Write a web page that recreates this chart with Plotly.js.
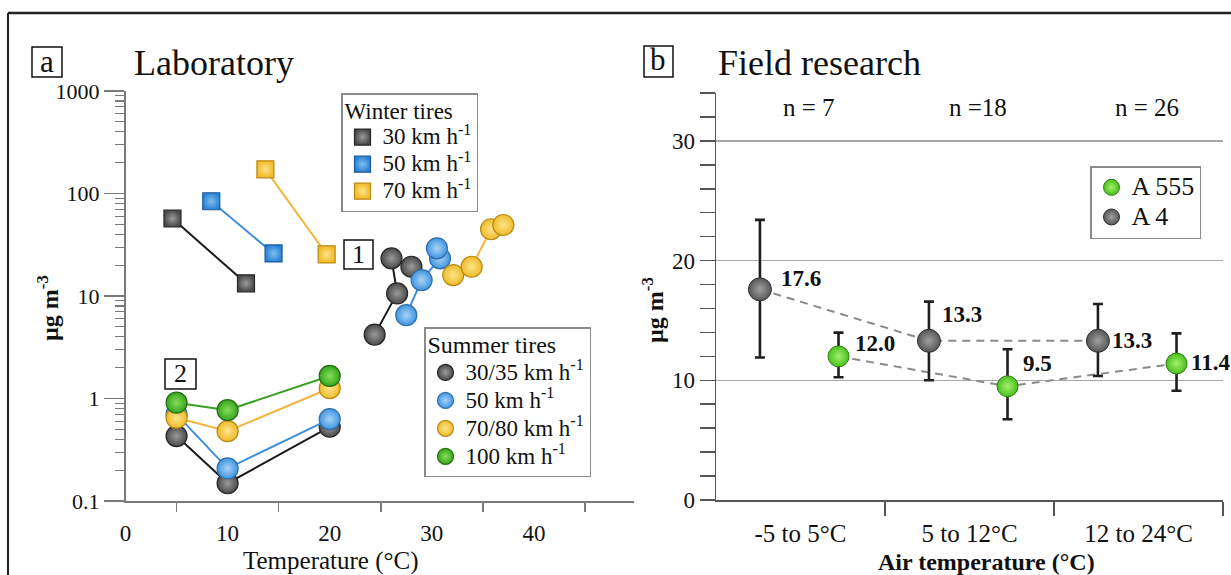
<!DOCTYPE html>
<html><head><meta charset="utf-8">
<script src="https://cdn.plot.ly/plotly-3.0.1.min.js"></script>
<style>html,body{margin:0;padding:0;background:#fff;} #chart{width:1231px;height:575px;}</style>
</head><body><div id="chart"></div>
<script>
// ---------- Panel a: Laboratory ----------
const winterLabels = ['30 km h<sup>-1</sup>', '50 km h<sup>-1</sup>', '70 km h<sup>-1</sup>'];
const winter30T = [4.6, 11.8];
const winter30C = [57, 13.3];
const winter50T = [8.4, 14.5];
const winter50C = [84, 26];
const winter70T = [13.7, 19.7];
const winter70C = [172, 25.5];

const summerLabels = ['30/35 km h<sup>-1</sup>', '50 km h<sup>-1</sup>', '70/80 km h<sup>-1</sup>', '100 km h<sup>-1</sup>'];
// group 2 (low temperature)
const summerT2 = [5, 10, 20];
const summer30C2 = [0.43, 0.149, 0.53];
const summer50C2 = [0.70, 0.208, 0.63];
const summer70C2 = [0.65, 0.48, 1.26];
const summer100C2 = [0.91, 0.77, 1.66];
// group 1 (high temperature)
const summer30T1 = [24.4, 26.6, 26.05, 28.0];
const summer30C1 = [4.2, 10.6, 23.3, 19.3];
const summer50T1 = [27.5, 29.0, 30.8, 30.5];
const summer50C1 = [6.5, 14.3, 23.3, 29.2];
const summer70T1 = [32.1, 33.9, 35.8, 37.0];
const summer70C1 = [16.0, 19.3, 44.8, 49.3];

const labYTicks = [0.1, 1, 10, 100, 1000];
const labYTickText = ['0.1', '1', '10', '100', '1000'];
const labXTicks = [0, 10, 20, 30, 40];

// ---------- Panel b: Field research ----------
const fieldCategories = ['-5 to 5°C', '5 to 12°C', '12 to 24°C'];
const fieldN = ['n = 7', 'n =18', 'n = 26'];
const a555Mean = [12.0, 9.5, 11.4];
const a555ErrPlus = [1.98, 3.09, 2.52];
const a555ErrMinus = [1.75, 2.76, 2.27];
const a4Mean = [17.6, 13.3, 13.3];
const a4ErrPlus = [5.8, 3.27, 3.07];
const a4ErrMinus = [5.7, 3.3, 2.94];
const fieldYTicks = [0, 10, 20, 30];

// ---------- styles ----------
const SERIF = 'Liberation Serif, Times New Roman, serif';
const W = 1231, H = 575;
const px = x => x / W, py = y => 1 - y / H;
const big = (t, s) => '<span style="font-size:' + s + 'px">' + t + '</span>';

const colBlack = {fill: '#4a4a4a', center: '#9a9a9a', edge: '#262626', line: '#1a1a1a'};
const colBlue  = {fill: '#3f95e0', center: '#a9d3f7', edge: '#2f6fae', line: '#3d8fdc'};
const colBlueSq= {fill: '#2c84d6', center: '#7fbdf0', edge: '#1d5a98', line: '#3d8fdc'};
const colYel   = {fill: '#f0bb28', center: '#fde48c', edge: '#b98b14', line: '#f2b640'};
const colGreen = {fill: '#36a41c', center: '#86de5c', edge: '#236f10', line: '#3aa024'};

const traces = [];
function addLab(xs, ys, col, symbol, size, name, legend, showLeg) {
  traces.push({x: xs, y: ys, xaxis: 'x', yaxis: 'y', type: 'scatter', mode: 'lines',
    line: {color: col.line, width: 2}, showlegend: false, hoverinfo: 'skip', connectgaps: false});
  traces.push({x: xs, y: ys, xaxis: 'x', yaxis: 'y', type: 'scatter', mode: 'markers',
    name: name, legend: legend, showlegend: showLeg,
    marker: {symbol: symbol, size: size, color: col.fill,
      gradient: {type: 'radial', color: col.center},
      line: {color: col.edge, width: 1.2}}});
}
addLab(winter30T, winter30C, colBlack, 'square', 17, big(winterLabels[0], 23), 'legend', true);
addLab(winter50T, winter50C, colBlueSq, 'square', 17, big(winterLabels[1], 23), 'legend', true);
addLab(winter70T, winter70C, colYel, 'square', 17, big(winterLabels[2], 23), 'legend', true);

addLab(summerT2.concat([null], summer30T1), summer30C2.concat([null], summer30C1), colBlack, 'circle', 21, big(summerLabels[0], 23), 'legend2', true);
addLab(summerT2.concat([null], summer50T1), summer50C2.concat([null], summer50C1), colBlue, 'circle', 21, big(summerLabels[1], 23), 'legend2', true);
addLab(summerT2.concat([null], summer70T1), summer70C2.concat([null], summer70C1), colYel, 'circle', 21, big(summerLabels[2], 23), 'legend2', true);
addLab(summerT2, summer100C2, colGreen, 'circle', 21, big(summerLabels[3], 23), 'legend2', true);

// panel b positions
const a4X = fieldCategories.map((c, i) => i + 0.26);
const a555X = fieldCategories.map((c, i) => i + 0.725);
traces.push({x: a4X, y: a4Mean, xaxis: 'x2', yaxis: 'y2', mode: 'lines', showlegend: false,
  line: {color: '#8a8a8a', width: 2, dash: '8px,6px'}, hoverinfo: 'skip'});
traces.push({x: a555X, y: a555Mean, xaxis: 'x2', yaxis: 'y2', mode: 'lines', showlegend: false,
  line: {color: '#8a8a8a', width: 2, dash: '8px,6px'}, hoverinfo: 'skip'});
const errStyle = {type: 'data', symmetric: false, color: '#1e1e1e', thickness: 2.6, width: 5};
traces.push({x: a555X, y: a555Mean, xaxis: 'x2', yaxis: 'y2', mode: 'markers', name: big('A 555', 26), legend: 'legend3',
  error_y: Object.assign({array: a555ErrPlus, arrayminus: a555ErrMinus}, errStyle),
  marker: {size: 21, color: '#48c01a', gradient: {type: 'radial', color: '#a4f06c'}, line: {color: '#2f7d12', width: 1}}});
traces.push({x: a4X, y: a4Mean, xaxis: 'x2', yaxis: 'y2', mode: 'markers', name: big('A 4', 26), legend: 'legend3',
  error_y: Object.assign({array: a4ErrPlus, arrayminus: a4ErrMinus}, errStyle),
  marker: {size: 23, color: '#575757', gradient: {type: 'radial', color: '#a0a0a0'}, line: {color: '#2e2e2e', width: 1}}});

// minor ticks for log axis
const logMinor = [];
for (let d = -1; d < 3; d++) for (let k = 2; k <= 9; k++) logMinor.push(k * Math.pow(10, d));

const annotations = [];
function txt(x, y, text, size, opts) {
  annotations.push(Object.assign({xref: 'paper', yref: 'paper', x: px(x), y: py(y), text: text, showarrow: false,
    xanchor: 'center', yanchor: 'middle', font: {family: SERIF, size: size, color: '#111'}}, opts || {}));
}
const boldFont = s => ({family: SERIF, size: s, color: '#111', weight: 'bold'});
txt(132, 63, 'Laboratory', 36, {xanchor: 'left'});
txt(716, 63, 'Field research', 36, {xanchor: 'left'});
txt(47, 61, 'a', 31);
txt(658.5, 60, 'b', 31);
txt(358.5, 254, '1', 26);
txt(180.5, 373.5, '2', 26);
txt(331, 561, 'Temperature (°C)', 25);
txt(986, 562, 'Air temperature (°C)', 24, {font: boldFont(24)});
txt(48, 308, 'µg m<sup>-3</sup>', 24, {textangle: -90, font: boldFont(24)});
txt(653, 310, 'µg m<sup>-3</sup>', 24, {textangle: -90, font: boldFont(24)});

fieldN.forEach((t, i) => annotations.push({xref: 'x2', yref: 'paper', x: i + 0.5, y: py(107), xshift: 8,
  yanchor: 'middle', text: t, showarrow: false, font: {family: SERIF, size: 25, color: '#111'}}));

const a4Shift = [[19, 11], [11, 26], [12, 0]];
const a555Shift = [[14, 13], [13, 23], [12, 1]];
a4Mean.forEach((v, i) => annotations.push({xref: 'x2', yref: 'y2', x: a4X[i], y: v, xanchor: 'left', yanchor: 'middle',
  xshift: a4Shift[i][0], yshift: a4Shift[i][1], text: v.toFixed(1), showarrow: false, font: boldFont(23)}));
a555Mean.forEach((v, i) => annotations.push({xref: 'x2', yref: 'y2', x: a555X[i], y: v, xanchor: 'left', yanchor: 'middle',
  xshift: a555Shift[i][0], yshift: a555Shift[i][1], text: v.toFixed(1), showarrow: false, font: boldFont(23)}));

function box(x0, y0, x1, y1) {
  return {type: 'rect', xref: 'paper', yref: 'paper', x0: px(x0), x1: px(x1), y0: py(y0), y1: py(y1),
    line: {color: '#111', width: 1.5}, fillcolor: 'rgba(0,0,0,0)'};
}
const shapes = [
  box(32, 47, 62, 77), box(644, 46, 673, 77), box(344, 240, 373, 269), box(165, 359, 196, 389),
  {type: 'line', xref: 'paper', yref: 'paper', x0: px(8), x1: px(8), y0: 0, y1: py(13), line: {color: '#222', width: 2}},
  {type: 'line', xref: 'paper', yref: 'paper', x0: px(8), x1: 1, y0: py(13), y1: py(13), line: {color: '#222', width: 2.5}}
];

const legendBase = {xanchor: 'left', yanchor: 'top', bgcolor: '#fff', bordercolor: '#8a8a8a', borderwidth: 1.5,
  itemsizing: 'trace', tracegroupgap: 0, traceorder: 'normal'};

const layout = {
  width: W, height: H, autosize: false,
  margin: {l: 0, r: 0, t: 0, b: 0},
  paper_bgcolor: '#fff', plot_bgcolor: 'rgba(0,0,0,0)',
  font: {family: SERIF, color: '#111'},
  xaxis: {domain: [px(125.5), px(634)], range: [0, 49.8], anchor: 'y',
    showline: true, linecolor: '#7a7a7a', linewidth: 2, showgrid: false, zeroline: false,
    tickmode: 'array', tickvals: labXTicks, ticks: '', ticklabelstandoff: 10,
    tickfont: {family: SERIF, size: 23, color: '#111'},
    minor: {tickmode: 'array', tickvals: [5, 15, 25, 35, 45], ticks: 'outside', ticklen: 9, tickwidth: 1.5, tickcolor: '#7a7a7a', showgrid: false}},
  yaxis: {domain: [py(501), py(91)], type: 'log', range: [-1, 3], anchor: 'x',
    showline: true, linecolor: '#7a7a7a', linewidth: 1.5, showgrid: false, zeroline: false,
    tickmode: 'array', tickvals: labYTicks, ticktext: labYTickText, ticks: 'outside', ticklen: 20, tickwidth: 1.5, tickcolor: '#7a7a7a',
    tickfont: {family: SERIF, size: 22, color: '#111'},
    minor: {tickmode: 'array', tickvals: logMinor, ticks: 'outside', ticklen: 9, tickwidth: 1.2, tickcolor: '#7a7a7a', showgrid: false}},
  xaxis2: {domain: [px(716), px(1223)], range: [0, 3], anchor: 'y2',
    showline: true, linecolor: '#555', linewidth: 1.5, showgrid: false, zeroline: false,
    tickmode: 'array', tickvals: fieldCategories.map((c, i) => i + 0.5), ticktext: fieldCategories, ticks: '', ticklabelstandoff: 10,
    tickfont: {family: SERIF, size: 25, color: '#111'},
    minor: {tickmode: 'array', tickvals: [1, 2, 3], ticks: 'outside', ticklen: 14, tickwidth: 1.5, tickcolor: '#555', showgrid: false}},
  yaxis2: {domain: [py(500), py(93)], range: [0, 34], anchor: 'x2',
    showline: true, linecolor: '#555', linewidth: 1.5, zeroline: false,
    showgrid: true, gridcolor: '#a8a8a8', gridwidth: 1.5,
    tickmode: 'array', tickvals: fieldYTicks, ticks: 'outside', ticklen: 15, tickwidth: 1.5, tickcolor: '#555',
    tickfont: {family: SERIF, size: 23, color: '#111'},
    minor: {dtick: 2, ticks: 'outside', ticklen: 15, tickwidth: 1.5, tickcolor: '#555', showgrid: false}},
  legend: Object.assign({}, legendBase, {x: px(341), y: py(93),
    font: {family: SERIF, size: 18.5, color: '#111'}, title: {text: big('Winter tires', 23), font: {family: SERIF, size: 18.5, color: '#111'}}}),
  legend2: Object.assign({}, legendBase, {x: px(424), y: py(327),
    font: {family: SERIF, size: 19.2, color: '#111'}, title: {text: big('Summer tires', 24), font: {family: SERIF, size: 19.2, color: '#111'}}}),
  legend3: Object.assign({}, legendBase, {x: px(1090), y: py(166),
    font: {family: SERIF, size: 20.5, color: '#111'}}),
  annotations: annotations,
  shapes: shapes,
  showlegend: true
};

Plotly.newPlot('chart', traces, layout, {staticPlot: true, displayModeBar: false});
</script>
</body></html>
